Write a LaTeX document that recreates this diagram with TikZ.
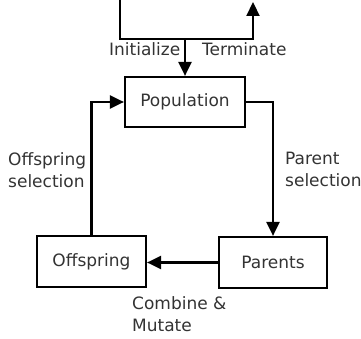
\documentclass[tikz,border=0pt]{standalone}
\usepackage{fontspec}
\setmainfont{DejaVu Sans}
\usetikzlibrary{arrows.meta}
\begin{document}
\begin{tikzpicture}[x=1pt,y=-1pt,
  box/.style={draw,line width=2.2pt,inner sep=0pt,text=black!80,font=\fontsize{17}{20}\selectfont},
  conn/.style={line width=2.2pt},
  arr/.style={conn,-{Triangle[length=14pt,width=13pt]}},
  lbl/.style={font=\fontsize{17}{22}\selectfont,text=black!80,inner sep=0pt,align=left}]
\useasboundingbox (0,0) rectangle (361,339);
\node[box,minimum width=120pt,minimum height=50pt] (pop) at (185,102) {Population};
\node[box,minimum width=108pt,minimum height=51pt] (par) at (273,262.5) {Parents};
\node[box,minimum width=109pt,minimum height=51pt] (off) at (91.5,261.5) {Offspring};
\coordinate (start) at (120,0);
\coordinate (finish) at (253,2);
\coordinate (join) at (185,39);
\draw[arr] (start) |- (finish |- join) -- (finish);
\draw[arr] (join) -- (pop.north);
\draw[arr] (pop.east) -| (par.north);
\draw[arr] (par.west) -- (par.west -| off.east);
\draw[arr] (off.north) |- (pop.west);
\node[lbl,anchor=east] (init) at (180.5,49) {Initialize};
\node[lbl,anchor=west] (term) at (202,49) {Terminate};
\node[lbl,anchor=north west] (osel) at (8,152) {Offspring\\selection};
\node[lbl,anchor=north west] (psel) at (285,152) {Parent\\selection};
\node[lbl,anchor=north west] (comb) at (132,296) {Combine \&\\Mutate};
\end{tikzpicture}
\end{document}
